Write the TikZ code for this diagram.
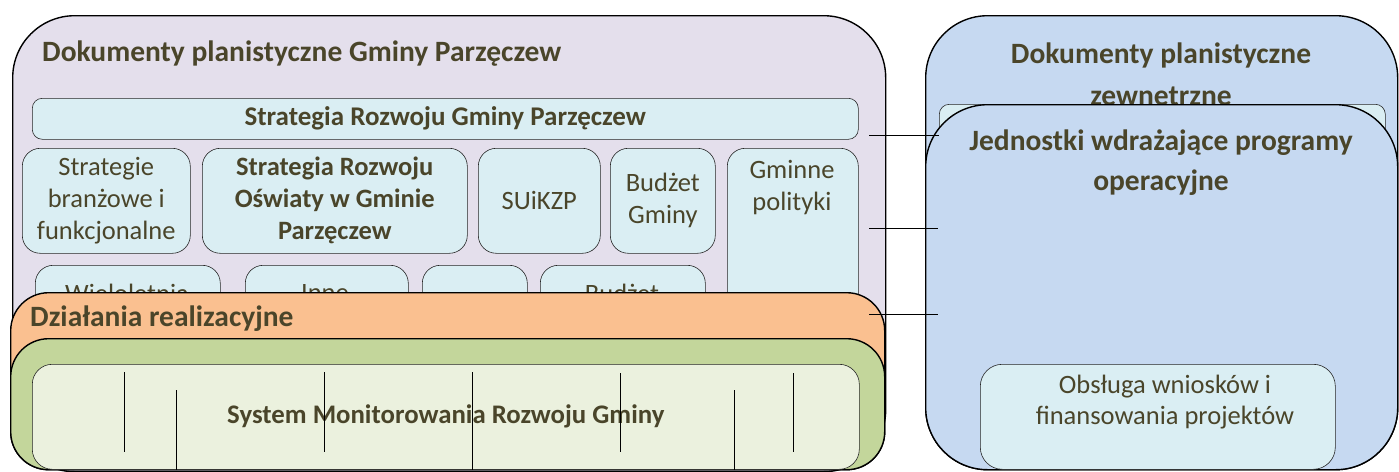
\documentclass[tikz,border=0pt]{standalone}
\usepackage{fontspec}
\setmainfont{Carlito}
\definecolor{schrift}{HTML}{4A452A}
\definecolor{lila}{HTML}{E4DFEC}
\definecolor{hblau}{HTML}{DAEEF3}
\definecolor{blau}{HTML}{C6D9F1}
\definecolor{orangefill}{HTML}{FAC090}
\definecolor{gruen}{HTML}{C3D69B}
\definecolor{hgruen}{HTML}{EBF1DE}
\tikzset{
    gross/.style={draw=black, line width=1.4pt, anchor=north west, inner sep=0pt},
    klein/.style={draw=black!85, line width=0.6pt, fill=hblau, anchor=north west, inner sep=0pt,
        rounded corners=18pt, text=schrift, align=center, font=\fontsize{26.5}{32}\selectfont},
    titel/.style={text=schrift, font=\fontsize{29.5}{42}\selectfont\bfseries, inner sep=0pt},
    texte/.style={text=schrift, font=\fontsize{26.5}{32}\selectfont, align=center, inner sep=0pt},
    strich/.style={draw=black, line width=0.7pt},
}

\begin{document}
\begin{tikzpicture}[x=1pt, y=-1pt]
    \useasboundingbox (0,0) rectangle (1399,471);
    % Dokumenty gminy
    \node[gross, fill=lila, rounded corners=62pt, minimum width=873pt, minimum height=456pt](dok) at (12,15) {};
    \node[titel, anchor=west](dok_t)                        at (42,54) {Dokumenty planistyczne Gminy Parzęczew};
    \node[klein, rounded corners=10pt, minimum width=826pt, minimum height=41pt,
        font=\fontsize{27}{30}\selectfont\bfseries](srg)    at (32,98) {Strategia Rozwoju Gminy Parzęczew};
    \node[klein, minimum width=168pt, minimum height=105pt](branz)      at (22,148) {Strategie\\branżowe i\\funkcjonalne};
    \node[klein, minimum width=265pt, minimum height=105pt,
        font=\fontsize{26.5}{32}\selectfont\bfseries](oswiata)          at (202,148) {Strategia Rozwoju\\Oświaty w Gminie\\Parzęczew};
    \node[klein, minimum width=122pt, minimum height=105pt](suikzp)     at (478,148) {SUiKZP};
    \node[klein, minimum width=105pt, minimum height=105pt](budzet)     at (610,148) {Budżet\\Gminy};
    \node[klein, minimum width=131pt, minimum height=170pt](polityki)   at (727,148) {};
    \node[texte](polityki_t)                                            at (792,188) {Gminne\\polityki};
    % zweite Reihe, halb verdeckt
    \node[klein, minimum width=185pt, minimum height=80pt](wielo)       at (35,265) {};
    \node[texte](wielo_t)                                               at (127,293) {Wieloletnia};
    \node[klein, minimum width=163pt, minimum height=80pt](inne)        at (245,265) {};
    \node[texte](inne_t)                                                at (325,293) {Inne};
    \node[klein, minimum width=105pt, minimum height=80pt](leer)        at (422,265) {};
    \node[klein, minimum width=165pt, minimum height=80pt](budzet2)     at (540,265) {};
    \node[texte](budzet2_t)                                             at (622,293) {Budżet};
    % Dzialania + Monitoring
    \node[gross, fill=orangefill, rounded corners=38pt, minimum width=874pt, minimum height=177pt](dzial) at (10,292) {};
    \node[titel, anchor=west](dzial_t)                      at (30,319) {Działania realizacyjne};
    \node[gross, fill=gruen, rounded corners=38pt, minimum width=874pt, minimum height=131pt](monit) at (10,338) {};
    \node[klein, fill=hgruen, rounded corners=20pt, minimum width=827pt, minimum height=105pt,
        font=\fontsize{26.8}{33}\selectfont\bfseries](smrg) at (32,364) {System Monitorowania Rozwoju Gminy};
    \draw[strich] (124,372) -- (124,452);
    \draw[strich] (176,390) -- (176,470);
    \draw[strich] (324,372) -- (324,452);
    \draw[strich] (472,372) -- (472,470);
    \draw[strich] (620,373) -- (620,452);
    \draw[strich] (734,390) -- (734,470);
    \draw[strich] (793,373) -- (793,452);
    % Dokumenty zewnetrzne
    \node[gross, fill=blau, rounded corners=62pt, minimum width=472pt, minimum height=454pt](zewn) at (925,15) {};
    \node[titel, align=center](zewn_t)                      at (1161,74) {Dokumenty planistyczne\\zewnetrzne};
    \node[klein, rounded corners=10pt, minimum width=446pt, minimum height=60pt](zewn_in) at (939,104) {};
    \node[gross, fill=blau, rounded corners=62pt, minimum width=472pt, minimum height=365pt](jedn) at (925,104) {};
    \node[titel, align=center, font=\fontsize{29.5}{40}\selectfont\bfseries](jedn_t) at (1161,163) {Jednostki wdrażające programy\\operacyjne};
    \node[klein, rounded corners=22pt, minimum width=355pt, minimum height=105pt](obsl) at (980,364) {};
    \node[texte, font=\fontsize{26.5}{31}\selectfont](obsl_t) at (1165,402) {Obsługa wniosków i\\finansowania projektów};
    % Verbindungen
    \coordinate (a1) at (869,135);
    \coordinate (b1) at (939,135);
    \coordinate (a2) at (869,228);
    \coordinate (b2) at (938,228);
    \coordinate (a3) at (869,314);
    \coordinate (b3) at (938,314);
    \path
        (a1) edge[strich] (b1)
        (a2) edge[strich] (b2)
        (a3) edge[strich] (b3);
\end{tikzpicture}
\end{document}
